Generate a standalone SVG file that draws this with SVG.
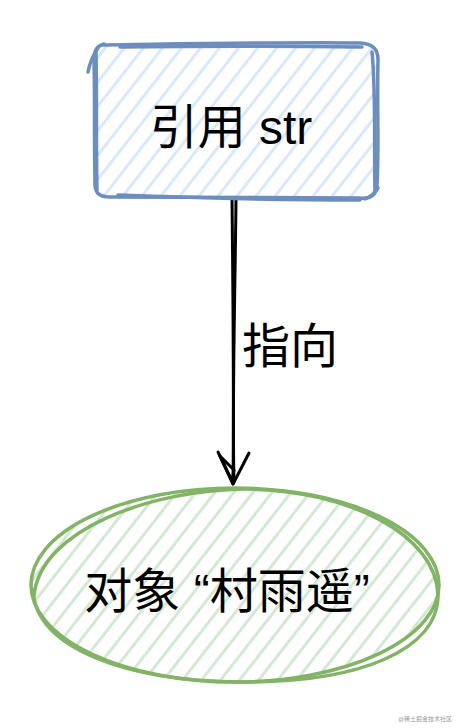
<svg xmlns="http://www.w3.org/2000/svg" width="468" height="728" viewBox="0 0 468 728">
<defs>
<pattern id="hb" patternUnits="userSpaceOnUse" width="15" height="15" patternTransform="rotate(-52)">
<line x1="0" y1="7.5" x2="15" y2="7.5" stroke="#dae8fc" stroke-width="3"/>
</pattern>
<pattern id="hg" patternUnits="userSpaceOnUse" width="15" height="15" patternTransform="rotate(-52)">
<line x1="0" y1="7.5" x2="15" y2="7.5" stroke="#d5e8d4" stroke-width="3"/>
</pattern>
<style>
.t{font-family:"Liberation Sans","Noto Sans CJK SC",sans-serif;fill:#000;}
.bs{fill:none;stroke:#6c8ebf;stroke-width:3.5;stroke-linecap:round;stroke-linejoin:round;}
.gs{fill:none;stroke:#82b366;stroke-width:3.5;stroke-linecap:round;}
.ar{fill:none;stroke:#000;stroke-width:3;stroke-linecap:round;stroke-linejoin:round;}
</style>
</defs>
<g id="connectors">
<path class="ar" d="M232 198 C233 290 234 400 233 484"/>
<path class="ar" d="M236 200 C235 300 232 400 234 482"/>
<path class="ar" d="M218 452 L233 484 L249 453"/>
<path class="ar" d="M220 456 L234 470 L232 481 Z"/>
</g>
<g id="ref">
<rect x="94" y="44" width="284" height="154" rx="10" fill="url(#hb)"/>
<path class="bs" d="M102 45 C180 44 280 42 360 43 C372 44 378 48 378 60 C377 100 379 150 377 186 C376 196 370 199 360 198 C280 197 180 198 110 197 C98 197 94 192 95 180 C94 140 95 100 94 60 C94 50 97 46 104 44"/>
<path class="bs" d="M120 47 C200 46 290 46 362 47 M372 52 C376 90 374 150 375 192 M360 200 C290 200 200 198 118 195 M97 190 C96 150 97 100 96 52 M88 72 C90 62 93 55 98 48 M365 199 C372 196 376 192 378 188"/>
<text class="t" x="231" y="144" font-size="48" text-anchor="middle">引用 str</text>
</g>
<g id="label">
<text class="t" x="242" y="363" font-size="48">指向</text>
</g>
<g id="obj">
<ellipse cx="235" cy="585" rx="203" ry="96" fill="url(#hg)"/>
<ellipse class="gs" cx="235" cy="585" rx="204" ry="97"/>
<path class="gs" d="M34 596 C40 530 150 490 245 489 C350 490 436 535 438 595 C438 650 360 683 240 682 C130 681 36 650 33 590"/>
<text class="t" x="227" y="608" font-size="48" text-anchor="middle">对象 “村雨遥”</text>
</g>
<text class="t" x="452" y="721" font-size="6" text-anchor="end" style="fill:#999">@稀土掘金技术社区</text>
</svg>
